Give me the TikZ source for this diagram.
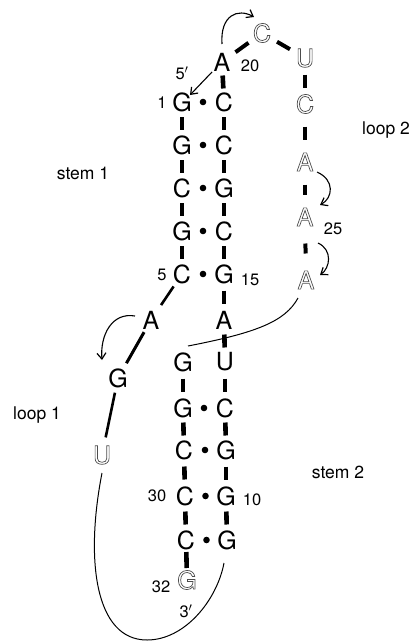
\documentclass[tikz,border=0pt]{standalone}
\usepackage{fontspec}
\setmainfont{TeX Gyre Heros}
\usetikzlibrary{arrows.meta,calc}
\newcommand\hol[1]{{\color{black!70}\special{pdf:literal direct 1 Tr 0.7 w}#1\special{pdf:literal direct 0 Tr}}}
\newcommand\bbar[4][6.5pt]{\draw[#2] ($(#3)!0.5!(#4)!#1!(#3)$) -- ($(#3)!0.5!(#4)!#1!(#4)$);}
\newcommand\pdot[2]{\fill ($(#1)!0.5!(#2)$) circle (3.3);}
\begin{document}
\begin{tikzpicture}[x=1pt,y=-1pt,
  nt/.style={font=\fontsize{25}{25}\selectfont, inner sep=0pt},
  num/.style={font=\fontsize{16.5}{16.5}\selectfont, inner sep=0pt},
  lab/.style={font=\fontsize{17.5}{17.5}\selectfont, inner sep=0pt},
  bb/.style={line width=4.6pt},
  lb/.style={line width=4pt},
  sb/.style={line width=2.6pt},
  thinline/.style={line width=1pt},
  arr/.style={line width=1.1pt, -{Straight Barb[length=6pt,width=9pt,line width=1.2pt]}}]
\useasboundingbox (0,0) rectangle (415,642);
% stem 1
\node[nt] (n1) at (182,102) {G};
\node[nt] (n2) at (182,145) {G};
\node[nt] (n3) at (182,188) {C};
\node[nt] (n4) at (182,231) {G};
\node[nt] (n5) at (182,274) {C};
\node[nt] (n19) at (224,102) {C};
\node[nt] (n18) at (224,145) {C};
\node[nt] (n17) at (224,188) {G};
\node[nt] (n16) at (224,231) {C};
\node[nt] (n15) at (224,274) {G};
\node[nt] (n20) at (222,62) {A};
% loop 2
\node[nt] (n21) at (262,33) {\hol{C}};
\node[nt] (n22) at (305,58) {\hol{U}};
\node[nt] (n23) at (305,104) {\hol{C}};
\node[nt] (n24) at (305,162) {\hol{A}};
\node[nt] (n25) at (305,217) {\hol{A}};
\node[nt] (n26) at (306,280) {\hol{A}};
% stem 2
\node[nt] (n14) at (224,320) {A};
\node[nt] (n13) at (225,362) {U};
\node[nt] (n12) at (225,408) {C};
\node[nt] (n11) at (226,450) {G};
\node[nt] (n10) at (226,496) {G};
\node[nt] (n9) at (227,540) {G};
\node[nt] (n27) at (183,362) {G};
\node[nt] (n28) at (183,408) {G};
\node[nt] (n29) at (184,450) {C};
\node[nt] (n30) at (185,496) {C};
\node[nt] (n31) at (186,540) {C};
\node[nt] (n32) at (187,580) {\hol{G}};
% loop 1
\node[nt] (n6) at (151,320) {A};
\node[nt] (n7) at (118,378) {G};
\node[nt] (n8) at (102,455) {\hol{U}};
% labels
\node[num] (l5p) at (182,73) {5$'$};
\node[num] (l1) at (162,103) {1};
\node[num] (l20) at (250,66) {20};
\node[num] (l5) at (162,275) {5};
\node[num] (l15) at (250,280) {15};
\node[num] (l25) at (333,229) {25};
\node[num] (l30) at (157,496) {30};
\node[num] (l10) at (252,500) {10};
\node[num] (l32) at (161,587) {32};
\node[num] (l3p) at (186,611) {3$'$};
\node[lab] (ts1) at (83,173) {stem 1};
\node[lab] (tl2) at (386,130) {loop 2};
\node[lab] (tl1) at (37,415) {loop 1};
\node[lab] (ts2) at (338,472) {stem 2};
% base pair dots
\pdot{n1}{n19}\pdot{n2}{n18}\pdot{n3}{n17}\pdot{n4}{n16}\pdot{n5}{n15}
\pdot{n28}{n12}\pdot{n29}{n11}\pdot{n30}{n10}\pdot{n31}{n9}
% backbone bars
\bbar{bb}{n1}{n2}\bbar{bb}{n2}{n3}\bbar{bb}{n3}{n4}\bbar{bb}{n4}{n5}
\bbar{bb}{n20}{n19}\bbar{bb}{n19}{n18}\bbar{bb}{n18}{n17}\bbar{bb}{n17}{n16}\bbar{bb}{n16}{n15}
\bbar{bb}{n15}{n14}\bbar{bb}{n14}{n13}\bbar{bb}{n13}{n12}\bbar{bb}{n12}{n11}\bbar{bb}{n11}{n10}\bbar{bb}{n10}{n9}
\bbar{bb}{n27}{n28}\bbar{bb}{n28}{n29}\bbar{bb}{n29}{n30}\bbar{bb}{n30}{n31}
\bbar[8pt]{bb}{n31}{n32}
\bbar[8pt]{lb}{n20}{n21}\bbar[7.5pt]{lb}{n21}{n22}
\bbar{lb}{n22}{n23}\bbar{lb}{n23}{n24}\bbar[5pt]{lb}{n24}{n25}\bbar[5pt]{lb}{n25}{n26}
\draw[sb, shorten <=15pt, shorten >=18pt] (n5.center) -- (n6.center);
\draw[sb, line width=3pt, shorten <=14pt, shorten >=17pt] (n6.center) -- (n7.center);
\draw[sb, shorten <=15pt, shorten >=18pt] (n7.center) -- (n8.center);
% thin connectors
\draw[thinline] ($(n26)+(-8,18)$) .. controls ($(n26)+(-21,42)$) and ($(n26)+(-51,53)$) .. ($(n27)+(5,-16)$);
\draw[thinline] ($(n8)+(0,18)$) .. controls ($(n8)+(-17,105)$) and ($(n8)+(-7,185)$) .. ($(n8)+(45,185)$)
   .. controls ($(n8)+(83,185)$) and ($(n9)+(-10,60)$) .. ($(n9)+(-3,23)$);
% arrows
\draw[arr] ($(n20)+(0,-18)$) .. controls ($(n20)+(-2,-47)$) and ($(n20)+(16,-54)$) .. ($(n21)+(-8,-16)$);
\draw[arr] ($(n20)+(-10,10)$) -- ($(n1)+(8,-7)$);
\draw[arr] ($(n24)+(12,10)$) .. controls ($(n24)+(30,18)$) and ($(n24)+(28,36)$) .. ($(n25)+(15,-12)$);
\draw[arr] ($(n25)+(13,26)$) .. controls ($(n25)+(28,33)$) and ($(n25)+(25,51)$) .. ($(n26)+(14,-5)$);
\draw[arr] ($(n6)+(-16,-4)$) .. controls ($(n6)+(-39,-8)$) and ($(n7)+(-18,-43)$) .. ($(n7)+(-16,-18)$);
\end{tikzpicture}
\end{document}
